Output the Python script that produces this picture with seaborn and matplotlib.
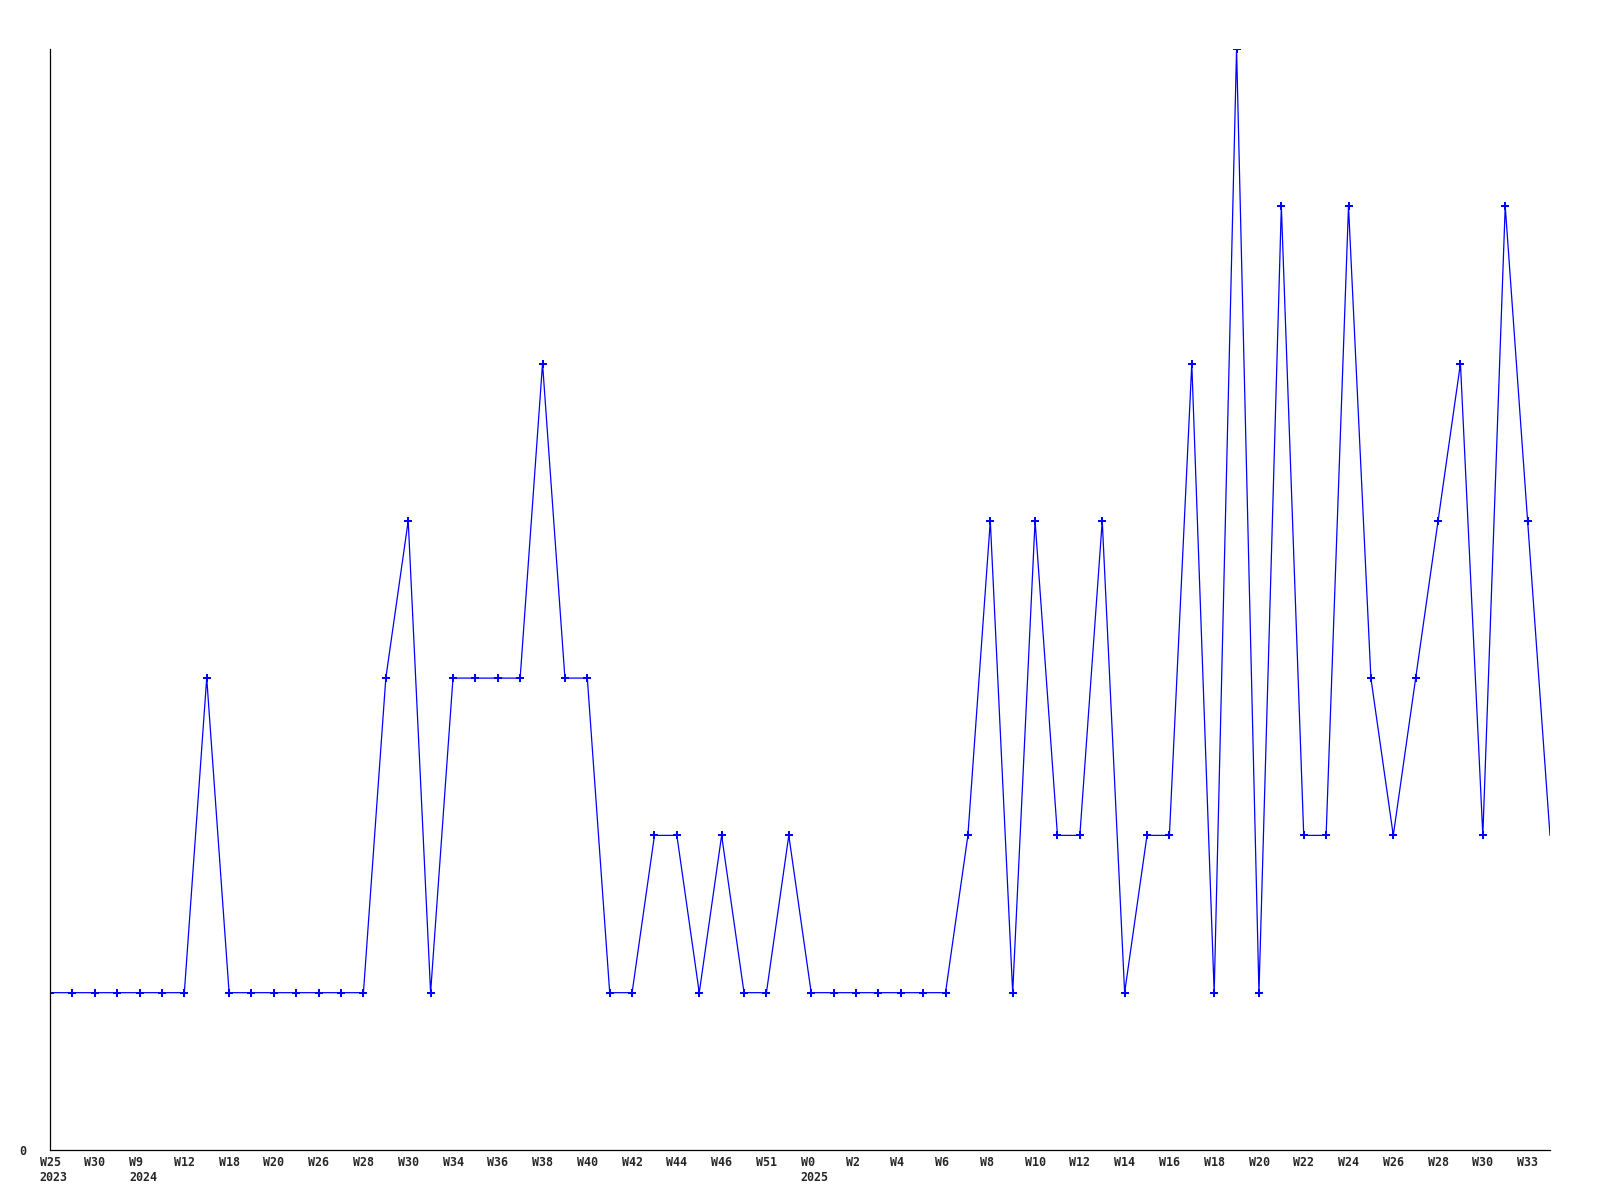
import matplotlib
matplotlib.use("Agg")
import matplotlib.pyplot as plt
import matplotlib.transforms as mtransforms
import seaborn as sns
import pandas as pd

# weekly counts, one value per week shown on the axis
counts = [1, 1, 1, 1, 1, 1, 1, 3, 1, 1,
          1, 1, 1, 1, 1, 3, 4, 1, 3, 3,
          3, 3, 5, 3, 3, 1, 1, 2, 2, 1,
          2, 1, 1, 2, 1, 1, 1, 1, 1, 1,
          1, 2, 4, 1, 4, 2, 2, 4, 1, 2,
          2, 5, 1, 7, 1, 6, 2, 2, 6, 3,
          2, 3, 4, 5, 2, 6, 4, 2]

# labels on every second week
week_labels = ["W25", "W30", "W9", "W12", "W18", "W20", "W26", "W28", "W30", "W34",
               "W36", "W38", "W40", "W42", "W44", "W46", "W51", "W0", "W2", "W4",
               "W6", "W8", "W10", "W12", "W14", "W16", "W18", "W20", "W22", "W24",
               "W26", "W28", "W30", "W33"]
year_labels = ["2023", "", "2024", "", "", "", "", "", "", "",
               "", "", "", "", "", "", "", "2025", "", "",
               "", "", "", "", "", "", "", "", "", "",
               "", "", "", ""]

df = pd.DataFrame({"week": range(len(counts)), "count": counts})

sns.set_style("white")
plt.rcParams["font.family"] = ["DejaVu Sans Mono"]
plt.rcParams["font.weight"] = "bold"
fsize = 8.4

fig = plt.figure(figsize=(16, 12), dpi=100)
ax = fig.add_axes([0.03125, 0.0417, 0.9375, 0.9175])

sns.lineplot(data=df, x="week", y="count", ax=ax, color="#0000ff", linewidth=0.9,
             marker="P", markersize=5.5, markeredgewidth=0,
             markevery=list(range(len(counts) - 1)))

ax.set_xlim(0, len(counts) - 1)
ax.set_ylim(0, 7)

ticks = list(range(0, len(counts) - 1, 2))
ax.set_xticks(ticks)
ax.set_xticklabels([])
ax.set_yticks([0])
ax.set_yticklabels(["0"], fontsize=fsize, fontweight="bold")
ax.tick_params(axis="x", length=0)
ax.tick_params(axis="y", length=0, pad=17)
ax.set_xlabel("")
ax.set_ylabel("")

# week labels start a little left of their week, year on a second line
base = mtransforms.blended_transform_factory(ax.transData, ax.transAxes)
tr = mtransforms.offset_copy(base, fig=fig, x=-7.5, y=-4, units="points")
for pos, wk, yr in zip(ticks, week_labels, year_labels):
    txt = wk + ("\n" + yr if yr else "")
    ax.text(pos, 0, txt, transform=tr, ha="left", va="top",
            fontsize=fsize, fontweight="bold", clip_on=False)

for s in ["top", "right"]:
    ax.spines[s].set_visible(False)
for s in ["left", "bottom"]:
    ax.spines[s].set_color("black")
    ax.spines[s].set_linewidth(0.9)

fig.savefig("out.png", dpi=100, facecolor="white")
